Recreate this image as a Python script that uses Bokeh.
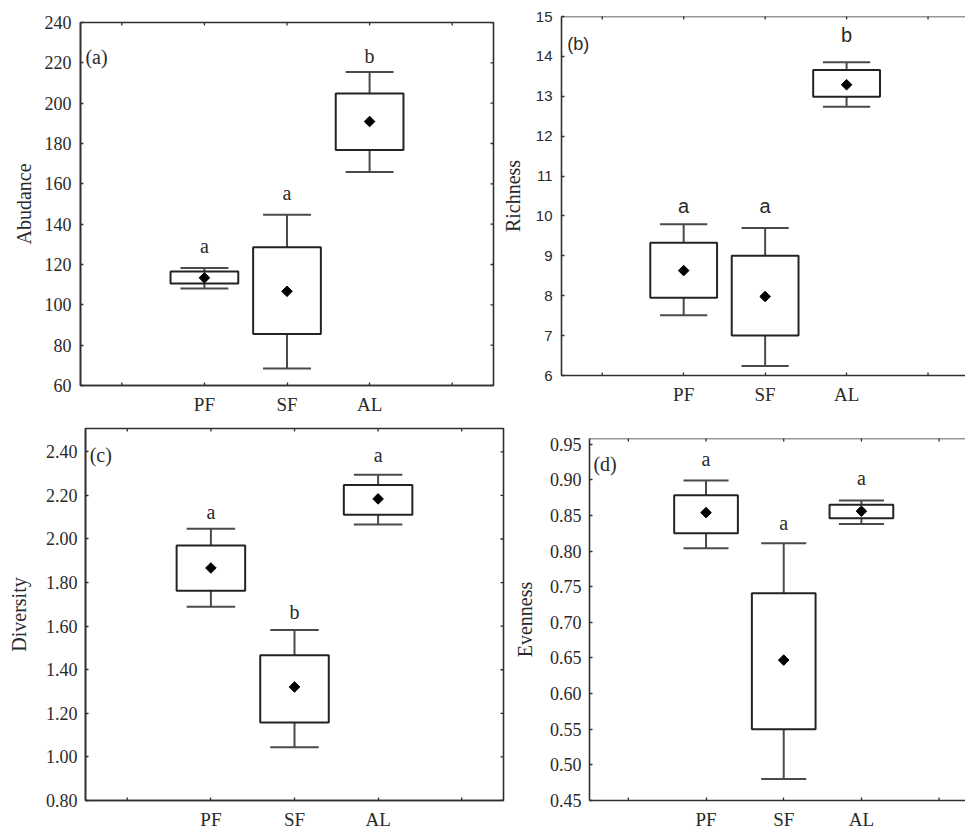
import math
from bokeh.plotting import figure
from bokeh.layouts import column, row
from bokeh.models import FixedTicker, Label, PrintfTickFormatter, ColumnDataSource, Span
from bokeh.core.properties import value
from bokeh.embed import file_html
from bokeh.resources import INLINE

# ---------------- data ----------------
groups = ["PF", "SF", "AL"]
x_ticks = [1, 2, 3, 4, 5]

abund_mean = [113.4, 106.7, 190.9]
abund_q_hi = [116.5, 128.6, 204.8]
abund_q_lo = [110.6, 85.5, 176.8]
abund_w_hi = [118.3, 144.7, 215.5]
abund_w_lo = [108.1, 68.4, 165.9]
abund_letters = ["a", "a", "b"]
abund_letter_y = [129.0, 155.6, 223.6]
abund_ticks = [60, 80, 100, 120, 140, 160, 180, 200, 220, 240]

rich_mean = [8.63, 7.98, 13.29]
rich_q_hi = [9.33, 9.0, 13.66]
rich_q_lo = [7.95, 7.0, 12.99]
rich_w_hi = [9.79, 9.70, 13.85]
rich_w_lo = [7.51, 6.24, 12.74]
rich_letters = ["a", "a", "b"]
rich_letter_y = [10.26, 10.26, 14.54]
rich_ticks = [6, 7, 8, 9, 10, 11, 12, 13, 14, 15]

div_mean = [1.867, 1.321, 2.184]
div_q_hi = [1.970, 1.467, 2.248]
div_q_lo = [1.762, 1.158, 2.111]
div_w_hi = [2.047, 1.582, 2.295]
div_w_lo = [1.689, 1.044, 2.066]
div_letters = ["a", "b", "a"]
div_letter_y = [2.126, 1.666, 2.385]
div_ticks = [0.8, 1.0, 1.2, 1.4, 1.6, 1.8, 2.0, 2.2, 2.4]

even_mean = [0.854, 0.647, 0.856]
even_q_hi = [0.8785, 0.741, 0.865]
even_q_lo = [0.825, 0.550, 0.846]
even_w_hi = [0.899, 0.811, 0.871]
even_w_lo = [0.804, 0.480, 0.838]
even_letters = ["a", "a", "a"]
even_letter_y = [0.929, 0.840, 0.903]
even_ticks = [0.45, 0.50, 0.55, 0.60, 0.65, 0.70, 0.75, 0.80, 0.85, 0.90, 0.95]

SERIF = "Liberation Serif"
SANS = "Liberation Sans"
FRAME = "#303030"
BOXC = "#232323"
WHISK = "#4a4a4a"
TXT = "#2a2a2a"

BOX_W = 0.82
CAP_W = 0.58


def frame_axis(ax, ticks):
    ax.ticker = FixedTicker(ticks=ticks)
    ax.axis_line_color = FRAME
    ax.axis_line_width = 1.6
    ax.major_tick_in = 3
    ax.major_tick_out = 0
    ax.major_tick_line_color = FRAME
    ax.major_tick_line_width = 1.3
    ax.minor_tick_line_color = None


def panel(width, height, borders, xr, yr, yticks, yfmt, ylabel, tag, tag_xy,
          mean, qhi, qlo, whi, wlo, letters, letter_y,
          tick_font, tick_size, letter_font, tag_font, tag_size,
          lab_standoff, ytick_standoff, closed):
    bl, br, bt, bb = borders
    p = figure(width=width, height=height, x_range=xr, y_range=yr,
               output_backend="svg", toolbar_location=None,
               min_border_left=bl, min_border_right=br,
               min_border_top=bt, min_border_bottom=bb)
    p.xgrid.visible = False
    p.ygrid.visible = False
    p.background_fill_color = "white"
    p.border_fill_color = "white"
    if closed:
        p.outline_line_color = FRAME
        p.outline_line_width = 1.6
        p.outline_line_alpha = 1.0
    else:
        p.outline_line_color = None
        p.add_layout(Span(location=yr[1], dimension="width",
                          line_color=FRAME, line_width=1.6))

    xs = [i + 2 for i in range(len(groups))]

    # bottom axis: labelled category ticks
    xa = p.xaxis[0]
    frame_axis(xa, xs)
    xa.major_label_overrides = {x: g for x, g in zip(xs, groups)}
    xa.major_label_text_font = SERIF
    xa.major_label_text_font_size = "19px"
    xa.major_label_text_color = TXT
    xa.major_label_standoff = 8

    # left axis
    ya = p.yaxis[0]
    frame_axis(ya, yticks)
    if yfmt:
        ya.formatter = PrintfTickFormatter(format=yfmt)
    ya.major_label_text_font = tick_font
    ya.major_label_text_font_size = tick_size
    ya.major_label_text_color = TXT
    ya.major_label_standoff = ytick_standoff
    ya.axis_label = ylabel
    ya.axis_label_text_font = SERIF
    ya.axis_label_text_font_size = "20px"
    ya.axis_label_text_font_style = "normal"
    ya.axis_label_text_color = TXT
    ya.axis_label_standoff = lab_standoff

    # inward frame ticks (clipped to the frame)
    edge_x = [t for t in x_ticks if t not in xs]
    p.scatter(x=edge_x, y=[yr[0]] * len(edge_x), marker="dash", angle=math.pi / 2,
              size=6, line_color=FRAME, line_width=1.3)
    p.scatter(x=x_ticks, y=[yr[1]] * len(x_ticks), marker="dash", angle=math.pi / 2,
              size=6, line_color=FRAME, line_width=1.3)
    if closed:
        p.scatter(x=[xr[1]] * len(yticks), y=yticks, marker="dash",
                  size=6, line_color=FRAME, line_width=1.3)

    src = ColumnDataSource(dict(
        x=xs, mean=mean, qhi=qhi, qlo=qlo, whi=whi, wlo=wlo,
        cl=[x - CAP_W / 2 for x in xs], cr=[x + CAP_W / 2 for x in xs],
        lab=letters, laby=letter_y))

    # whiskers
    p.segment(x0="x", y0="qhi", x1="x", y1="whi", source=src, line_color=WHISK, line_width=2)
    p.segment(x0="x", y0="qlo", x1="x", y1="wlo", source=src, line_color=WHISK, line_width=2)
    p.segment(x0="cl", y0="whi", x1="cr", y1="whi", source=src, line_color=WHISK, line_width=2)
    p.segment(x0="cl", y0="wlo", x1="cr", y1="wlo", source=src, line_color=WHISK, line_width=2)
    # boxes
    p.vbar(x="x", width=BOX_W, top="qhi", bottom="qlo", source=src,
           fill_color="white", line_color=BOXC, line_width=2)
    # means
    p.scatter(x="x", y="mean", source=src, marker="square", angle=0.785,
              size=7.5, fill_color="black", line_color="black")
    # significance letters
    p.text(x="x", y="laby", text="lab", source=src,
           text_font=value(letter_font), text_font_size=value("20px"),
           text_align="center", text_baseline="middle", text_color=TXT)
    # panel tag
    p.add_layout(Label(x=tag_xy[0], y=tag_xy[1], text=tag,
                       text_font=tag_font, text_font_size=tag_size,
                       text_align="left", text_baseline="middle",
                       text_color=TXT))
    return p


pa = panel(498, 418, (80, 5, 22, 33), (0.5, 5.5), (60, 240), abund_ticks, None,
           "Abudance", "(a)", (0.56, 222.7),
           abund_mean, abund_q_hi, abund_q_lo, abund_w_hi, abund_w_lo,
           abund_letters, abund_letter_y,
           SERIF, "18px", SERIF, SERIF, "20px", 7, 9, True)

pb = panel(467, 418, (55, 0, 16, 43), (0.5, 5.46), (6, 15), rich_ticks, None,
           "Richness", "(b)", (0.57, 14.32),
           rich_mean, rich_q_hi, rich_q_lo, rich_w_hi, rich_w_lo,
           rich_letters, rich_letter_y,
           SANS, "15px", SANS, SANS, "18px", 9, 9, False)

pc = panel(510, 414, (85, 7, 10, 32), (0.5, 5.5), (0.8, 2.507), div_ticks, "%.2f",
           "Diversity", "(c)", (0.55, 2.385),
           div_mean, div_q_hi, div_q_lo, div_w_hi, div_w_lo,
           div_letters, div_letter_y,
           SERIF, "18px", SERIF, SERIF, "20px", 13, 8, True)

pd_ = panel(455, 414, (73, 0, 20, 32), (0.5, 5.34), (0.45, 0.958), even_ticks, "%.2f",
            "Evenness", "(d)", (0.55, 0.922),
            even_mean, even_q_hi, even_q_lo, even_w_hi, even_w_lo,
            even_letters, even_letter_y,
            SERIF, "18px", SERIF, SERIF, "20px", 11, 8, False)

layout = column(row(column(pa), column(pb)), row(column(pc), column(pd_)))

open("out.html", "w").write(file_html(layout, INLINE))
